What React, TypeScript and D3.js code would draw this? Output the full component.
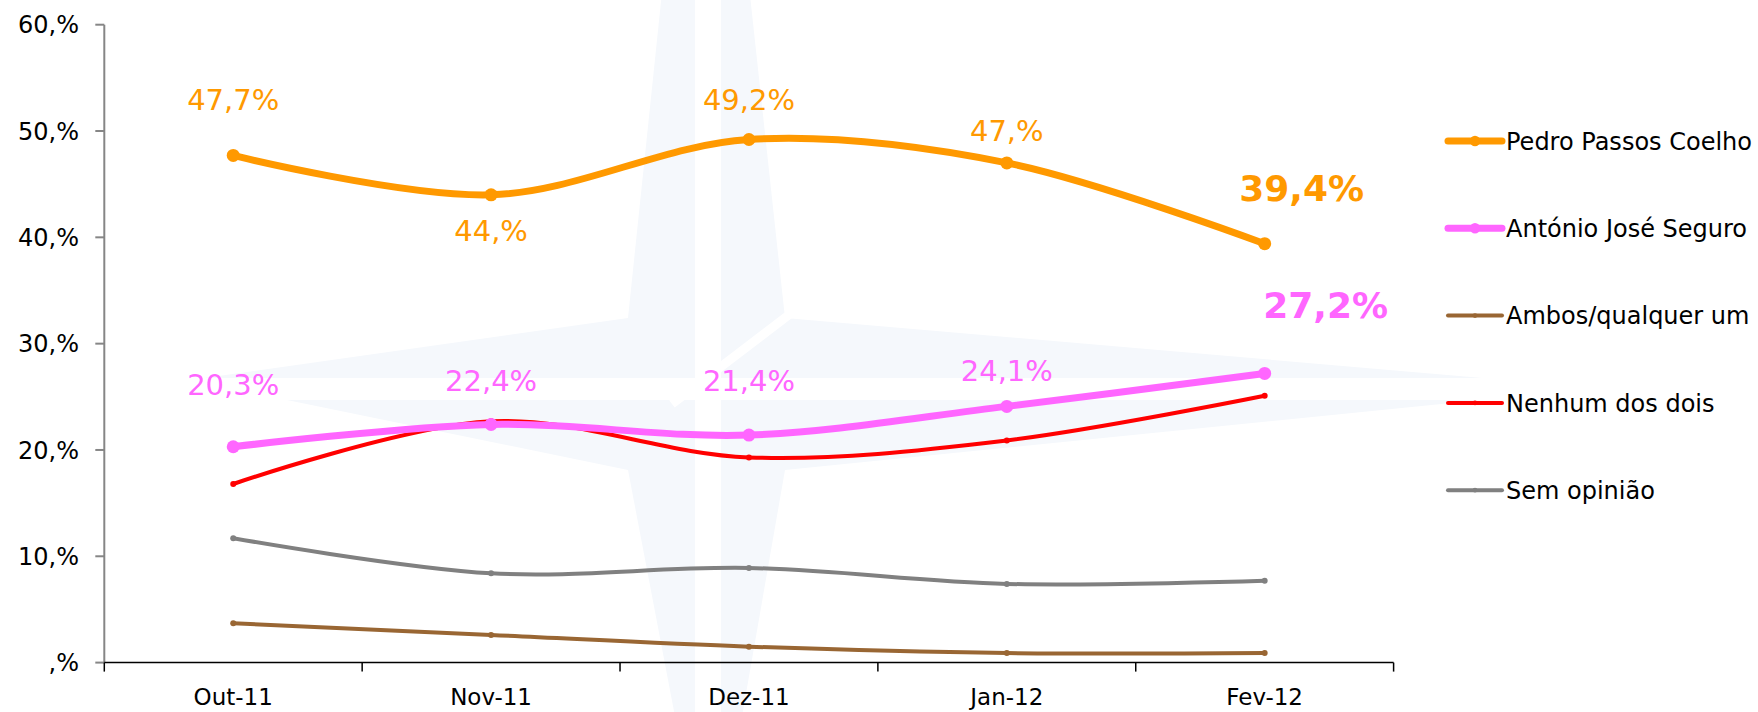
import React from "react";
import { scaleLinear, scaleBand, line, curveCatmullRom } from "d3";

// months on the x axis
const months = ["Out-11", "Nov-11", "Dez-11", "Jan-12", "Fev-12"];

// series values (%)
const pedro = [47.7, 44.0, 49.2, 47.0, 39.4];
const antonio = [20.3, 22.4, 21.4, 24.1, 27.2];
const ambos = [3.7, 2.6, 1.5, 0.9, 0.9];
const nenhum = [16.8, 22.7, 19.3, 20.9, 25.1];
const semOpiniao = [11.7, 8.4, 8.9, 7.4, 7.7];

const pedroLabels = ["47,7%", "44,%", "49,2%", "47,%", "39,4%"];
const antonioLabels = ["20,3%", "22,4%", "21,4%", "24,1%", "27,2%"];

const yTicks = [0, 10, 20, 30, 40, 50, 60];
const yTickLabels = [",%", "10,%", "20,%", "30,%", "40,%", "50,%", "60,%"];

const seriesNames = [
  "Pedro Passos Coelho",
  "António José Seguro",
  "Ambos/qualquer um",
  "Nenhum dos dois",
  "Sem opinião",
];

const W = 1758;
const H = 712;
const margin = { top: 24.7, bottom: 662.6, left: 104.3, right: 1393.6 };
const FONT = "Tahoma, 'DejaVu Sans', Verdana, sans-serif";

// label offsets (layout only), in px relative to the point
const pedroLabelDy = [-56, 36, -40, -32, -56];
const antonioLabelDy = [-62, -44, -55, -36, -68];

const App: React.FC = () => {
  const x = scaleBand<string>().domain(months).range([margin.left, margin.right]);
  const cx = (m: string) => (x(m) as number) + x.bandwidth() / 2;
  const y = scaleLinear().domain([0, 60]).range([margin.bottom, margin.top]);

  const mkLine = line<number>()
    .x((_, i) => cx(months[i]))
    .y((d) => y(d))
    .curve(curveCatmullRom.alpha(0.5));

  const series = [
    { name: seriesNames[0], values: pedro, color: "#FF9900", width: 7, r: 6.5 },
    { name: seriesNames[1], values: antonio, color: "#FF66FF", width: 7, r: 6.5 },
    { name: seriesNames[2], values: ambos, color: "#996633", width: 4, r: 3 },
    { name: seriesNames[3], values: nenhum, color: "#FF0000", width: 4, r: 3 },
    { name: seriesNames[4], values: semOpiniao, color: "#808080", width: 4, r: 3 },
  ];
  const drawOrder = [4, 2, 3, 1, 0];

  const legendX = 1448;
  const legendY0 = 141;
  const legendStep = 87.3;

  return (
    <>
      <style>{`body{margin:0}`}</style>
      <svg width={W} height={H} style={{ display: "block", background: "#fff" }}>
        {/* faint compass watermark */}
        <g>
          <polygon
            points="705,-420 628,318 190,380 628,470 710,900 785,470 1600,388 785,318"
            fill="#f5f8fc"
          />
          <rect x={695} y={0} width={26} height={H} fill="#fff" />
          <rect x={0} y={378} width={W} height={22} fill="#fff" />
          <line x1={672} y1={404} x2={790} y2={314} stroke="#fff" strokeWidth={9} />
        </g>

        {/* y axis */}
        <line x1={margin.left} x2={margin.left} y1={margin.top} y2={margin.bottom} stroke="#868686" strokeWidth={2} />
        {yTicks.map((t, i) => (
          <g key={t}>
            <line x1={margin.left - 9} x2={margin.left} y1={y(t)} y2={y(t)} stroke="#868686" strokeWidth={2} />
            <text x={79} y={y(t)} dy="0.36em" textAnchor="end" fontFamily={FONT} fontSize={24} fill="#000">
              {yTickLabels[i]}
            </text>
          </g>
        ))}

        {/* x axis */}
        <line x1={margin.left} x2={margin.right} y1={margin.bottom} y2={margin.bottom} stroke="#000" strokeWidth={1.5} />
        {[...months.map((m) => x(m) as number), margin.right].map((t, i) => (
          <line key={i} x1={t} x2={t} y1={margin.bottom} y2={margin.bottom + 9} stroke="#000" strokeWidth={1.5} />
        ))}
        {months.map((m) => (
          <text key={m} x={cx(m)} y={697} dy="0.36em" textAnchor="middle" fontFamily={FONT} fontSize={23} fill="#000">
            {m}
          </text>
        ))}

        {/* lines */}
        {drawOrder.map((k) => {
          const s = series[k];
          return (
            <g key={s.name}>
              <path d={mkLine(s.values) as string} fill="none" stroke={s.color} strokeWidth={s.width} strokeLinecap="round" />
              {s.values.map((v, i) => (
                <circle key={i} cx={cx(months[i])} cy={y(v)} r={s.r} fill={s.color} />
              ))}
            </g>
          );
        })}

        {/* data labels */}
        {pedro.map((v, i) => {
          const last = i === pedro.length - 1;
          return (
            <text
              key={"p" + i}
              x={cx(months[i]) + (last ? 37 : 0)}
              y={y(v) + pedroLabelDy[i]}
              dy="0.36em"
              textAnchor="middle"
              fontFamily={FONT}
              fontSize={last ? 36 : 29}
              fontWeight={last ? "bold" : "normal"}
              fill="#FF9900"
            >
              {pedroLabels[i]}
            </text>
          );
        })}
        {antonio.map((v, i) => {
          const last = i === antonio.length - 1;
          return (
            <text
              key={"a" + i}
              x={cx(months[i]) + (last ? 61 : 0)}
              y={y(v) + antonioLabelDy[i]}
              dy="0.36em"
              textAnchor="middle"
              fontFamily={FONT}
              fontSize={last ? 36 : 29}
              fontWeight={last ? "bold" : "normal"}
              fill="#FF66FF"
            >
              {antonioLabels[i]}
            </text>
          );
        })}

        {/* legend */}
        {series.map((s, i) => {
          const ly = legendY0 + i * legendStep;
          return (
            <g key={"lg" + i}>
              <line x1={legendX} x2={legendX + 54} y1={ly} y2={ly} stroke={s.color} strokeWidth={s.width} strokeLinecap="round" />
              <circle cx={legendX + 27} cy={ly} r={s.r * 0.8} fill={s.color} />
              <text x={legendX + 58} y={ly} dy="0.36em" fontFamily={FONT} fontSize={24} fill="#000">
                {s.name}
              </text>
            </g>
          );
        })}
      </svg>
    </>
  );
};

export default App;
